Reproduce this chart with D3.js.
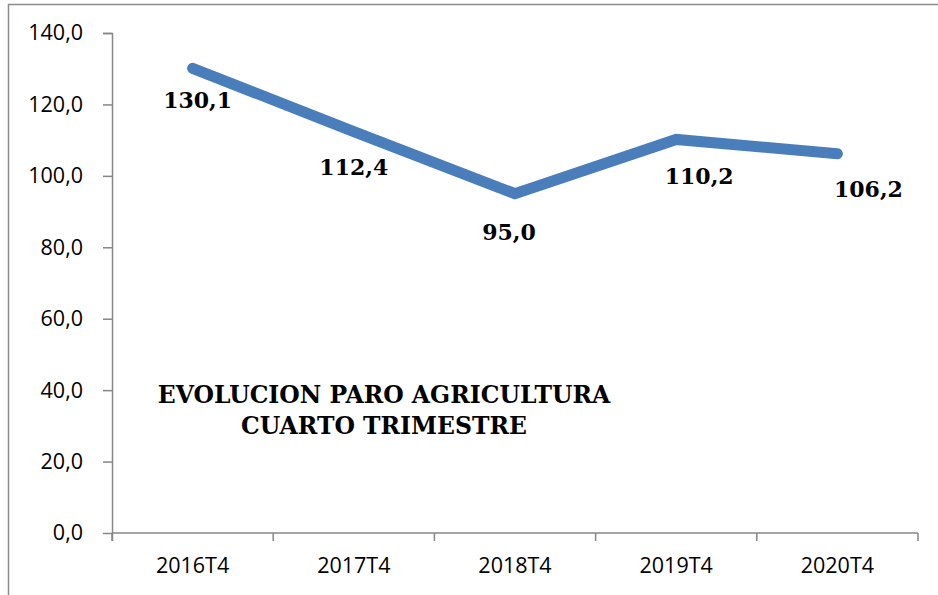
<!DOCTYPE html>
<html>
<head>
<meta charset="utf-8">
<script src="https://cdnjs.cloudflare.com/ajax/libs/d3/7.8.5/d3.min.js"></script>
<style>
  html, body { margin: 0; padding: 0; background: #fff; }
  svg { display: block; }
</style>
</head>
<body>
<div id="chart"></div>
<script>
// Chart data
var categories = ["2016T4", "2017T4", "2018T4", "2019T4", "2020T4"];
var values = [130.1, 112.4, 95.0, 110.2, 106.2];
var yTicks = [0, 20, 40, 60, 80, 100, 120, 140];
var titleLines = ["EVOLUCION PARO AGRICULTURA", "CUARTO TRIMESTRE"];

// Manual label nudges (as placed in the original chart)
var labelDx = [5, 0, -6, 23, 31];
var labelDy = [40, 43, 46, 45, 43];

var svgWidth = 938;
var svgHeight = 595;

var margin = { top: 33, bottom: 62, left: 112, right: 20 };
var width = svgWidth - margin.left - margin.right;
var height = svgHeight - margin.top - margin.bottom;

var svg = d3.select("#chart")
    .append("svg")
    .attr("width", svgWidth)
    .attr("height", svgHeight);

// Outer frame
svg.append("rect")
    .attr("x", 8.5)
    .attr("y", 4.5)
    .attr("width", 940)
    .attr("height", 600)
    .attr("fill", "none")
    .attr("stroke", "#8c8c8c")
    .attr("stroke-width", 1.5);

var chartGroup = svg.append("g")
    .attr("transform", `translate(${margin.left}, ${margin.top})`);

// Scales
var xScale = d3.scaleBand()
    .domain(categories)
    .range([0, width])
    .padding(0);

var yScale = d3.scaleLinear()
    .domain([0, 140])
    .range([height, 0]);

var fmt = function(d) { return d3.format(".1f")(d).replace(".", ","); };

// Y axis
var yAxis = d3.axisLeft(yScale)
    .tickValues(yTicks)
    .tickSize(9)
    .tickPadding(20)
    .tickFormat(fmt);

var yG = chartGroup.append("g").call(yAxis);
yG.select(".domain").attr("d", `M-9,0.5H0.5V${height + 8}`);

// X axis, ticks at band edges
var edges = categories.map(function(c) { return xScale(c); }).concat([width]);

var xG = chartGroup.append("g")
    .attr("transform", `translate(0, ${height})`);

xG.append("path")
    .attr("d", `M0,0H${width}`)
    .attr("stroke", "#868686")
    .attr("stroke-width", 1.5)
    .attr("fill", "none");

xG.selectAll("line.edge")
    .data(edges)
    .enter()
    .append("line")
    .attr("class", "edge")
    .attr("x1", function(d) { return d; })
    .attr("x2", function(d) { return d; })
    .attr("y1", 0)
    .attr("y2", 8)
    .attr("stroke", "#868686")
    .attr("stroke-width", 1.5);

xG.selectAll("text")
    .data(categories)
    .enter()
    .append("text")
    .attr("x", function(d) { return xScale(d) + xScale.bandwidth() / 2; })
    .attr("y", 40)
    .attr("text-anchor", "middle")
    .text(function(d) { return d; });

// Axis styling
svg.selectAll(".domain, .tick line")
    .attr("stroke", "#868686")
    .attr("stroke-width", 1.5);

chartGroup.selectAll("text")
    .attr("font-family", "'Open Sans', sans-serif")
    .attr("font-size", "21.5px")
    .attr("fill", "#000");

// Line
var line = d3.line()
    .x(function(d, i) { return xScale(categories[i]) + xScale.bandwidth() / 2; })
    .y(function(d) { return yScale(d); });

chartGroup.append("path")
    .datum(values)
    .attr("d", line)
    .attr("fill", "none")
    .attr("stroke", "#4a7ebb")
    .attr("stroke-width", 11)
    .attr("stroke-linecap", "round")
    .attr("stroke-linejoin", "miter");

// Data labels
chartGroup.append("g").selectAll("text")
    .data(values)
    .enter()
    .append("text")
    .attr("x", function(d, i) { return xScale(categories[i]) + xScale.bandwidth() / 2 + labelDx[i]; })
    .attr("y", function(d, i) { return yScale(d) + labelDy[i]; })
    .attr("text-anchor", "middle")
    .attr("font-family", "'DejaVu Serif', serif")
    .attr("font-weight", "bold")
    .attr("font-size", "22px")
    .attr("fill", "#000")
    .text(function(d) { return fmt(d); });

// Title inside the plot
svg.append("g").selectAll("text")
    .data(titleLines)
    .enter()
    .append("text")
    .attr("x", 384)
    .attr("y", function(d, i) { return 403 + i * 31; })
    .attr("text-anchor", "middle")
    .attr("font-family", "'DejaVu Serif', serif")
    .attr("font-weight", "bold")
    .attr("font-size", "23.5px")
    .attr("fill", "#000")
    .text(function(d) { return d; });
</script>
</body>
</html>
